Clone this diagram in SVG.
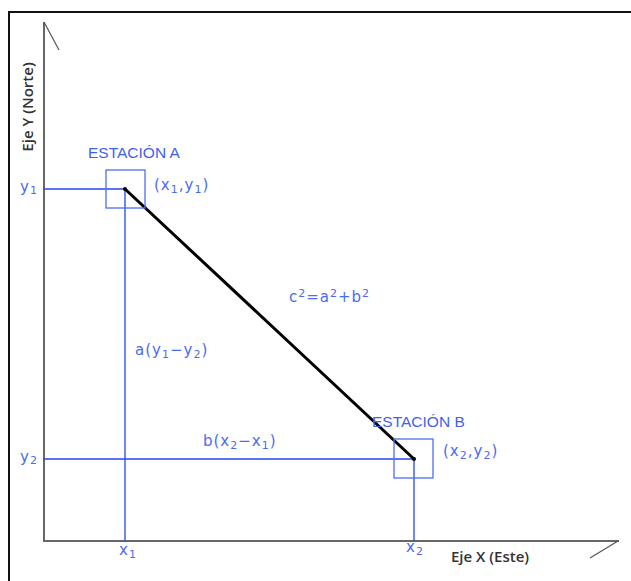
<svg xmlns="http://www.w3.org/2000/svg" width="631" height="581" viewBox="0 0 631 581">
<style>
.frame{fill:none;stroke:#111;stroke-width:2}
.axis{fill:none;stroke:#666;stroke-width:2}
.tick{fill:none;stroke:#555;stroke-width:1.2}
.blue{fill:none;stroke:#2448f0;stroke-width:1.3}
.box{fill:none;stroke:#4d6ef2;stroke-width:1.3}
.main{fill:none;stroke:#000;stroke-width:3}
.lab{font-family:"Liberation Sans",Arial,sans-serif;font-size:15.5px;fill:#3f62ee}
.cad{font-family:"DejaVu Sans",sans-serif;font-size:15px;fill:#4a6cf0;letter-spacing:1px}
.sub{font-size:11px}
.ax{font-family:"Open Sans","Liberation Sans",sans-serif;font-size:15px;font-weight:600;fill:#333}
</style>
<rect width="631" height="581" fill="#fff"/>
<path class="frame" d="M9 590 V12 H640"/>
<g id="axes">
<path class="axis" d="M44 22 V541 H619"/>
<path class="tick" d="M44 22 L59 50"/>
<path class="tick" d="M618 541 L590 558"/>
<text class="ax" transform="translate(33,107) rotate(-90)" text-anchor="middle">Eje Y (Norte)</text>
<text class="ax" x="451" y="562">Eje X (Este)</text>
</g>
<g id="connectors">
<path class="blue" d="M44 189 H125 V541"/>
<path class="blue" d="M44 459 H414 V541"/>
<path class="main" d="M125 189 L414 459"/>
</g>
<g id="estacion-a">
<rect class="box" x="106" y="170" width="39" height="38"/>
<circle cx="125" cy="189" r="2" fill="#000"/>
<text class="lab" x="88" y="158">ESTACIÓN A</text>
<text class="cad" x="154" y="190">(x<tspan class="sub" dy="3">1</tspan><tspan dy="-3">,y</tspan><tspan class="sub" dy="3">1</tspan><tspan dy="-3">)</tspan></text>
</g>
<g id="estacion-b">
<rect class="box" x="394" y="439" width="39" height="39"/>
<circle cx="414" cy="459" r="2" fill="#000"/>
<text class="lab" x="372" y="427">ESTACIÓN B</text>
<text class="cad" x="443" y="456">(x<tspan class="sub" dy="3">2</tspan><tspan dy="-3">,y</tspan><tspan class="sub" dy="3">2</tspan><tspan dy="-3">)</tspan></text>
</g>
<g id="labels">
<text class="cad" x="20" y="192">y<tspan class="sub" dy="2">1</tspan></text>
<text class="cad" x="20" y="462">y<tspan class="sub" dy="2">2</tspan></text>
<text class="cad" x="119" y="555">x<tspan class="sub" dy="3">1</tspan></text>
<text class="cad" x="406" y="552">x<tspan class="sub" dy="3">2</tspan></text>
<text class="cad" x="289" y="302">c<tspan class="sub" dy="-5">2</tspan><tspan dy="5">=a</tspan><tspan class="sub" dy="-5">2</tspan><tspan dy="5">+b</tspan><tspan class="sub" dy="-5">2</tspan></text>
<text class="cad" x="135" y="355">a(y<tspan class="sub" dy="3">1</tspan><tspan dy="-3">−y</tspan><tspan class="sub" dy="3">2</tspan><tspan dy="-3">)</tspan></text>
<text class="cad" x="203" y="446">b(x<tspan class="sub" dy="3">2</tspan><tspan dy="-3">−x</tspan><tspan class="sub" dy="3">1</tspan><tspan dy="-3">)</tspan></text>
</g>
</svg>
